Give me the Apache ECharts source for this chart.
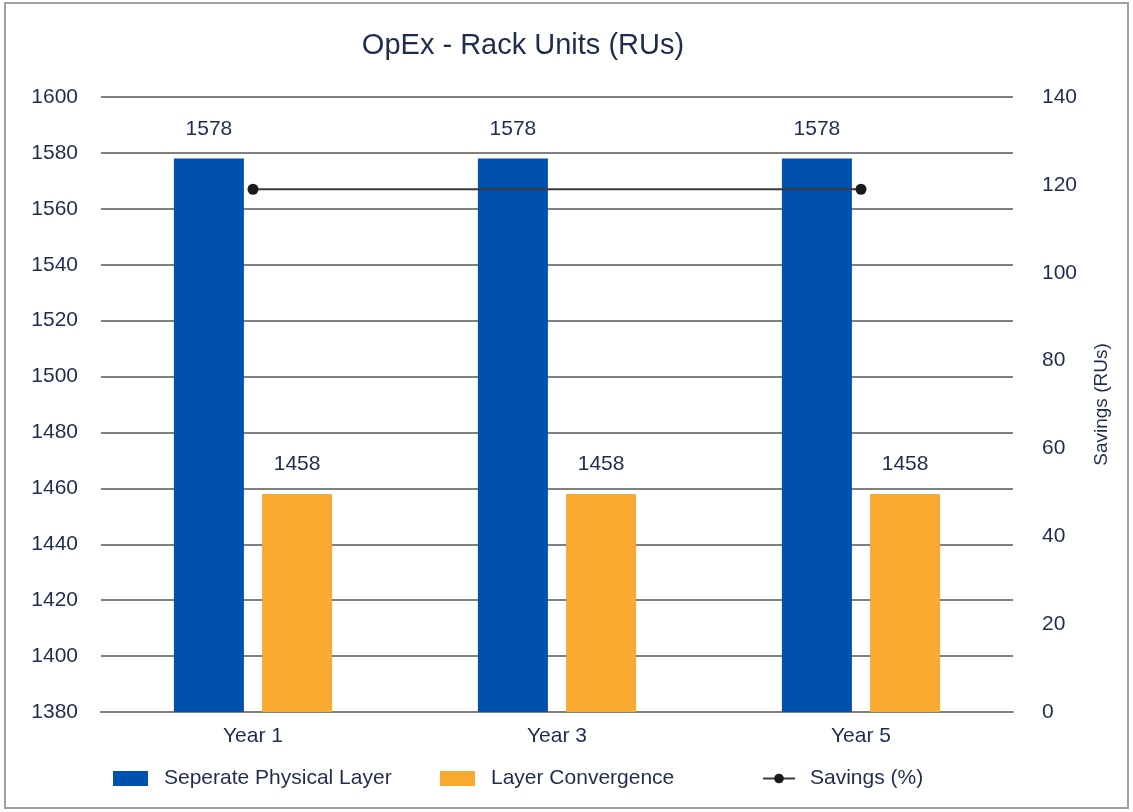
<!DOCTYPE html>
<html>
<head>
<meta charset="utf-8">
<title>OpEx - Rack Units (RUs)</title>
<script src="https://cdn.jsdelivr.net/npm/echarts@6/dist/echarts.min.js"></script>
<style>
  html, body { margin: 0; padding: 0; background: #fff; }
  #chart { width: 1133px; height: 812px; }
</style>
</head>
<body>
<div id="chart"></div>
<script>
// chart data
const years = ['Year 1', 'Year 3', 'Year 5']
const separateLayer = [1578, 1578, 1578]
const layerConvergence = [1458, 1458, 1458]
// middle point is not marked in the source, the line just passes through
const savings = [119, '-', 119]
const leftTicks = { min: 1380, max: 1600, step: 20 }
const rightTicks = { min: 0, max: 140, step: 20 }

const textColor = '#1e2d4f'
const fontFamily = '"Liberation Sans", Arial, sans-serif'

const chart = echarts.init(document.getElementById('chart'))
chart.setOption({
  animation: false,
  textStyle: { fontFamily: fontFamily },
  title: {
    text: 'OpEx - Rack Units (RUs)',
    left: 518,
    top: 26,
    textAlign: 'center',
    textStyle: { fontSize: 29, fontWeight: 'normal', color: textColor, fontFamily: fontFamily }
  },
  graphic: [{
    type: 'rect',
    shape: { x: 5, y: 3, width: 1123, height: 805 },
    style: { fill: 'none', stroke: '#a0a0a0', lineWidth: 2 },
    silent: true
  }],
  legend: [
    {
      data: [{ name: 'Seperate Physical Layer', icon: 'rect' }],
      left: 108, top: 763,
      itemWidth: 35, itemHeight: 15,
      textStyle: { fontSize: 21, color: textColor, padding: [0, 0, 0, 11] }
    },
    {
      data: [{ name: 'Layer Convergence', icon: 'rect' }],
      left: 435, top: 763,
      itemWidth: 35, itemHeight: 15,
      textStyle: { fontSize: 21, color: textColor, padding: [0, 0, 0, 11] }
    },
    {
      data: ['Savings (%)'],
      left: 757, top: 763,
      itemWidth: 32, itemHeight: 12,
      textStyle: { fontSize: 21, color: textColor, padding: [0, 0, 0, 10] }
    }
  ],
  grid: { left: 101, right: 120, top: 97, bottom: 100 },
  xAxis: {
    type: 'category',
    data: years,
    axisLine: { lineStyle: { color: '#808080', width: 2 } },
    axisTick: { show: false },
    axisLabel: { fontSize: 21, color: textColor, margin: 14 }
  },
  yAxis: [
    {
      type: 'value',
      min: leftTicks.min,
      max: leftTicks.max,
      interval: leftTicks.step,
      axisLine: { show: false },
      axisTick: { show: false },
      axisLabel: { fontSize: 21, color: textColor, margin: 23, formatter: v => String(v) },
      splitLine: { lineStyle: { color: '#808080', width: 2 } }
    },
    {
      type: 'value',
      min: rightTicks.min,
      max: rightTicks.max,
      interval: rightTicks.step,
      position: 'right',
      name: 'Savings (RUs)',
      nameLocation: 'middle',
      nameGap: 79,
      nameRotate: 90,
      nameTextStyle: { fontSize: 19, color: textColor },
      axisLine: { show: false },
      axisTick: { show: false },
      axisLabel: { fontSize: 21, color: textColor, margin: 29 },
      splitLine: { show: false }
    }
  ],
  series: [
    {
      name: 'Seperate Physical Layer',
      type: 'bar',
      data: separateLayer,
      barWidth: 70,
      barGap: '26%',
      itemStyle: { color: '#0051ad' },
      label: { show: true, position: 'top', distance: 19, fontSize: 21, color: textColor }
    },
    {
      name: 'Layer Convergence',
      type: 'bar',
      data: layerConvergence,
      barWidth: 70,
      itemStyle: { color: '#f8a92f' },
      label: { show: true, position: 'top', distance: 19, fontSize: 21, color: textColor }
    },
    {
      name: 'Savings (%)',
      type: 'line',
      yAxisIndex: 1,
      data: savings,
      connectNulls: true,
      symbol: 'circle',
      symbolSize: 11,
      z: 5,
      lineStyle: { color: '#3a3a3a', width: 2 },
      itemStyle: { color: '#1a1a1a' }
    }
  ]
})
</script>
</body>
</html>
